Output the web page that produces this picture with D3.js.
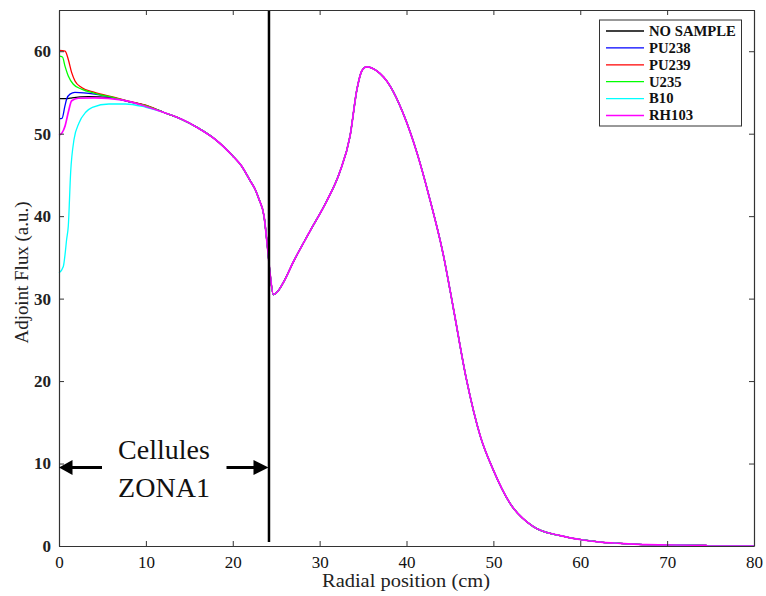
<!DOCTYPE html>
<html><head><meta charset="utf-8">
<script src="https://cdn.jsdelivr.net/npm/d3@7"></script>
<style>body{margin:0;background:#fff}svg{display:block}</style>
</head><body>
<svg id="chart" width="766" height="596"></svg>
<script>
// ---- data ----
const seriesNames = ["NO SAMPLE","PU238","PU239","U235","B10","RH103"];
const seriesColors = ["#000000","#0000ff","#ff0000","#00ff00","#00ffff","#ff00ff"];
// Near-centre part (x in cm, adjoint flux) — differs per sample
const noSampleStart = [[0,54.25],[1.0,54.25],[1.5,54.35],[3.4,54.5],[5.7,54.4],[8,53.9],[10,53.4]];
const pu238Start = [[0,51.8],[0.35,51.85],[0.69,53.4],[0.88,54.2],[1.27,54.8],[1.84,55.0],[4.1,54.8],[5.7,54.5],[8,53.9],[10,53.4]];
const pu239Start = [[0,60.1],[0.7,60.0],[1.07,59.0],[1.46,57.4],[1.84,56.4],[2.6,55.6],[4.1,55.0],[6.4,54.4],[8,53.95],[10,53.45]];
const u235Start = [[0,59.4],[0.4,59.3],[0.69,58.2],[1.07,57.0],[1.65,56.0],[2.6,55.4],[4.1,54.9],[6.4,54.35],[8,53.9],[10,53.4]];
const b10Start = [[0,33.1],[0.5,33.9],[0.69,35.3],[0.88,37.2],[1.07,38.8],[1.34,45.3],[1.73,49.3],[2.3,51.3],[3.07,52.6],[3.84,53.2],[5.75,53.6],[7.67,53.6],[9.6,53.3],[10,53.2]];
const rh103Start = [[0,49.8],[0.35,50.1],[0.69,50.9],[1.07,52.6],[1.46,54.0],[2.2,54.3],[4.1,54.35],[7.2,54.1],[10,53.3]];
// Outer part shared by all samples
const commonTail = [[12,52.6],[14,51.8],[16,50.7],[18,49.3],[20,47.3],[21,46.1],[22,44.3],[22.6,43.2],[23,42.1],[23.6,40.0],[24.0,36.2],[24.3,33.0],[24.67,30.5],[25.2,30.9],[25.8,31.9],[27,34.5],[28.9,38.2],[30.8,41.8],[32.3,45.3],[33.5,49.7],[34.3,55.4],[34.85,57.6],[35.4,58.1],[36.6,57.6],[38.1,55.8],[39.6,52.5],[41.2,47.7],[42.7,42.0],[44.2,35.5],[45.4,28.8],[46.9,20.2],[48.5,13.3],[50,9.2],[51.9,5.2],[54.6,2.35],[57.7,1.25],[60.3,0.73],[62.6,0.45],[64.6,0.33],[67.6,0.16],[74.5,0.08],[74.6,0],[80,0]];
const xTicks = [0,10,20,30,40,50,60,70,80];
const yTicks = [0,10,20,30,40,50,60];
const zoneBoundary = 24.17;

const starts = [noSampleStart,pu238Start,pu239Start,u235Start,b10Start,rh103Start];
const series = seriesNames.map((n,i)=>({name:n,color:seriesColors[i],values:starts[i].concat(commonTail)}));

// ---- layout ----
const L=59,R=754,T=10,B=546;
const svg=d3.select("#chart");
const x=d3.scaleLinear().domain([0,80]).range([L,R]);
const y=d3.scaleLinear().domain([0,65]).range([B,T]);
const serif='"Liberation Serif","Times New Roman",serif';

// curves
const line=d3.line().curve(d3.curveMonotoneX).x(d=>x(d[0])).y(d=>y(d[1]));
svg.append("g").selectAll("path").data(series).join("path")
  .attr("d",d=>line(d.values)).attr("fill","none")
  .attr("stroke",d=>d.color).attr("stroke-width",(d,i)=>i===series.length-1?1.7:1.3);

// zone boundary
svg.append("line").attr("x1",x(zoneBoundary)).attr("x2",x(zoneBoundary))
  .attr("y1",B-4).attr("y2",T).attr("stroke","#000").attr("stroke-width",2.5);

// axes (inward ticks, box)
const axC="#333";
const gb=svg.append("g").attr("transform",`translate(0,${B})`)
  .call(d3.axisBottom(x).tickValues(xTicks).tickSizeInner(-5).tickSizeOuter(0).tickPadding(10));
const gt=svg.append("g").attr("transform",`translate(0,${T})`)
  .call(d3.axisTop(x).tickValues(xTicks).tickSizeInner(-5).tickSizeOuter(0).tickFormat(""));
const gl=svg.append("g").attr("transform",`translate(${L},0)`)
  .call(d3.axisLeft(y).tickValues(yTicks).tickSizeInner(-5).tickSizeOuter(0).tickPadding(8));
const gr=svg.append("g").attr("transform",`translate(${R},0)`)
  .call(d3.axisRight(y).tickValues(yTicks).tickSizeInner(-5).tickSizeOuter(0).tickFormat(""));
[gb,gt,gl,gr].forEach(g=>{g.selectAll("path,line").attr("stroke",axC);g.select(".domain").attr("stroke-width",1.2);});
gb.selectAll("text").attr("font-family",serif).attr("font-size",17).attr("fill","#111");
gl.selectAll("text").attr("font-family",serif).attr("font-size",17).attr("font-weight","bold").attr("fill","#222");

// axis titles
svg.append("text").attr("x",406).attr("y",587).attr("text-anchor","middle")
  .attr("font-family",serif).attr("font-size",18).attr("fill","#222")
  .attr("textLength",168).attr("lengthAdjust","spacingAndGlyphs")
  .text("Radial position (cm)");
svg.append("text").attr("transform",`translate(28,272.5) rotate(-90)`).attr("text-anchor","middle")
  .attr("font-family",serif).attr("font-size",18).attr("fill","#222")
  .attr("textLength",142).attr("lengthAdjust","spacingAndGlyphs")
  .text("Adjoint Flux (a.u.)");

// legend
const lg=svg.append("g");
lg.append("rect").attr("x",599.5).attr("y",20).attr("width",142).attr("height",106)
  .attr("fill","#fff").attr("stroke","#333").attr("stroke-width",1);
series.forEach((s,i)=>{
  const yy=31+i*16.9;
  lg.append("line").attr("x1",606).attr("x2",644).attr("y1",yy).attr("y2",yy).attr("stroke",s.color).attr("stroke-width",1.3);
  lg.append("text").attr("transform",`translate(649,${yy+4.8}) scale(1.05,1)`).attr("font-family",serif).attr("font-weight","bold")
    .attr("font-size",14).attr("fill","#111").text(s.name);
});

// annotation
const ann=svg.append("g");
ann.append("text").attr("x",164).attr("y",459).attr("text-anchor","middle")
  .attr("font-family",serif).attr("font-size",28).attr("fill","#111").text("Cellules");
ann.append("text").attr("x",164).attr("y",497).attr("text-anchor","middle")
  .attr("font-family",serif).attr("font-size",28).attr("fill","#111").text("ZONA1");
const ay=467.5;
ann.append("line").attr("x1",70).attr("x2",102).attr("y1",ay).attr("y2",ay).attr("stroke","#000").attr("stroke-width",3);
ann.append("line").attr("x1",226.5).attr("x2",256).attr("y1",ay).attr("y2",ay).attr("stroke","#000").attr("stroke-width",3);
ann.append("path").attr("d",`M${L},${ay} L${L+13.5},${ay-7.5} L${L+13.5},${ay+7.5} Z`).attr("fill","#000");
const rx=x(zoneBoundary)-0.5;
ann.append("path").attr("d",`M${rx},${ay} L${rx-15},${ay-7.5} L${rx-15},${ay+7.5} Z`).attr("fill","#000");
</script>
</body></html>
